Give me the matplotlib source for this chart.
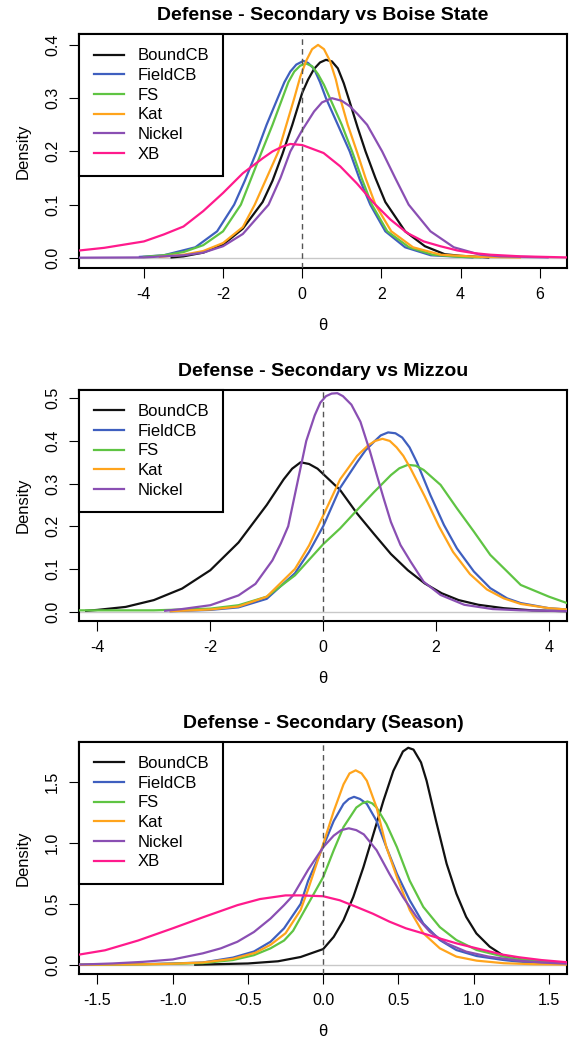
import matplotlib
matplotlib.use("Agg")
import matplotlib.pyplot as plt

plt.rcParams["font.family"] = ["Liberation Sans", "DejaVu Sans"]

# colours of the positions
pos_names = ["BoundCB", "FieldCB", "FS", "Kat", "Nickel", "XB"]
pos_colors = ["#111111", "#3f5fbf", "#5fc443", "#ffa41c", "#8a4fb3", "#ff1a8c"]

# ---- Boise State ----
boise_boundcb_x = [-3.3, -3, -2.5, -2, -1.5, -1, -0.75, -0.5, -0.25, 0, 0.15, 0.3, 0.45, 0.6, 0.75, 0.9, 1.05, 1.2, 1.4, 1.6, 1.85, 2.1, 2.6, 3.1, 3.6, 4.0, 4.7]
boise_boundcb_y = [0.001, 0.003, 0.01, 0.025, 0.055, 0.105, 0.145, 0.195, 0.25, 0.31, 0.335, 0.355, 0.367, 0.372, 0.369, 0.356, 0.328, 0.293, 0.245, 0.2, 0.15, 0.105, 0.05, 0.022, 0.007, 0.004, 0.001]
boise_fieldcb_x = [-4.1, -3.5, -2.7, -2.15, -1.72, -1.45, -1.15, -0.9, -0.62, -0.45, -0.3, -0.15, 0.03, 0.15, 0.3, 0.45, 0.6, 0.9, 1.2, 1.45, 1.72, 2.1, 2.6, 3.25, 4.3]
boise_fieldcb_y = [0.002, 0.005, 0.02, 0.05, 0.1, 0.145, 0.2, 0.25, 0.3, 0.33, 0.35, 0.363, 0.37, 0.366, 0.355, 0.33, 0.3, 0.25, 0.2, 0.148, 0.1, 0.05, 0.02, 0.005, 0.001]
boise_fs_x = [-4.0, -3.5, -3, -2.5, -2, -1.55, -1.02, -0.75, -0.5, -0.35, -0.2, -0.05, 0.1, 0.25, 0.4, 0.55, 0.7, 1.0, 1.26, 1.5, 1.76, 2.15, 2.7, 3.3, 4.0, 4.5]
boise_fs_y = [0.002, 0.005, 0.011, 0.024, 0.05, 0.1, 0.2, 0.25, 0.3, 0.33, 0.35, 0.361, 0.365, 0.36, 0.345, 0.325, 0.3, 0.25, 0.2, 0.15, 0.1, 0.05, 0.02, 0.006, 0.002, 0.001]
boise_kat_x = [-3.6, -3, -2.5, -2, -1.5, -1.2, -0.9, -0.6, -0.4, -0.2, -0.05, 0.1, 0.25, 0.4, 0.55, 0.7, 0.85, 0.96, 1.15, 1.38, 1.6, 1.85, 2.25, 2.8, 3.5, 4.5, 5.5]
boise_kat_y = [0.002, 0.006, 0.013, 0.028, 0.058, 0.1, 0.15, 0.2, 0.25, 0.3, 0.34, 0.37, 0.392, 0.4, 0.392, 0.37, 0.335, 0.3, 0.25, 0.2, 0.15, 0.1, 0.05, 0.02, 0.006, 0.002, 0.001]
boise_nickel_x = [-5.63, -4, -3, -2.5, -2, -1.5, -0.85, -0.55, -0.3, 0, 0.3, 0.5, 0.75, 1.0, 1.2, 1.4, 1.64, 2.02, 2.35, 2.69, 3.24, 3.83, 4.5, 5, 6.2]
boise_nickel_y = [0.0005, 0.001, 0.005, 0.01, 0.022, 0.045, 0.1, 0.15, 0.2, 0.24, 0.275, 0.292, 0.3, 0.295, 0.285, 0.27, 0.25, 0.2, 0.15, 0.1, 0.05, 0.02, 0.006, 0.003, 0.001]
boise_xb_x = [-5.63, -5, -4.5, -4, -3.5, -3, -2.5, -2, -1.5, -1, -0.75, -0.5, -0.3, 0, 0.54, 0.96, 1.38, 1.81, 2.23, 2.65, 3.07, 3.49, 3.92, 4.34, 4.76, 5.52, 6.69]
boise_xb_y = [0.014, 0.019, 0.025, 0.031, 0.044, 0.059, 0.088, 0.122, 0.159, 0.187, 0.2, 0.209, 0.214, 0.212, 0.197, 0.172, 0.14, 0.103, 0.072, 0.047, 0.031, 0.022, 0.014, 0.009, 0.006, 0.003, 0.001]

# ---- Mizzou ----
mizzou_boundcb_x = [-4.2, -4, -3.5, -3, -2.5, -2, -1.5, -1, -0.85, -0.7, -0.55, -0.4, -0.25, -0.1, 0.1, 0.3, 0.6, 0.9, 1.2, 1.5, 1.8, 2.1, 2.4, 2.75, 3.2, 3.7, 4.32]
mizzou_boundcb_y = [0.002, 0.004, 0.011, 0.027, 0.054, 0.097, 0.162, 0.25, 0.28, 0.31, 0.335, 0.35, 0.346, 0.335, 0.31, 0.285, 0.23, 0.182, 0.135, 0.097, 0.066, 0.043, 0.027, 0.016, 0.008, 0.003, 0.001]
mizzou_fieldcb_x = [-2.7, -2, -1.5, -1, -0.5, -0.25, 0, 0.3, 0.6, 0.75, 0.9, 1.02, 1.15, 1.28, 1.4, 1.53, 1.66, 1.9, 2.14, 2.37, 2.67, 2.96, 3.26, 3.5, 4, 4.32]
mizzou_fieldcb_y = [0.001, 0.004, 0.01, 0.03, 0.09, 0.14, 0.2, 0.29, 0.35, 0.378, 0.398, 0.413, 0.42, 0.418, 0.408, 0.385, 0.35, 0.273, 0.203, 0.148, 0.094, 0.055, 0.031, 0.02, 0.008, 0.005]
mizzou_fs_x = [-4.32, -3, -2, -1.5, -1, -0.5, 0, 0.3, 0.6, 0.9, 1.2, 1.35, 1.5, 1.64, 1.78, 2.08, 2.37, 2.67, 2.96, 3.26, 3.5, 4, 4.32]
mizzou_fs_y = [0.003, 0.003, 0.007, 0.015, 0.035, 0.085, 0.158, 0.195, 0.238, 0.28, 0.32, 0.336, 0.344, 0.342, 0.332, 0.297, 0.242, 0.1875, 0.133, 0.094, 0.0625, 0.035, 0.02]
mizzou_kat_x = [-2.7, -2, -1.5, -1, -0.5, -0.25, 0, 0.3, 0.6, 0.8, 0.92, 1.05, 1.18, 1.3, 1.42, 1.55, 1.8, 2.05, 2.3, 2.6, 2.9, 3.2, 3.5, 4, 4.32]
mizzou_kat_y = [0.001, 0.005, 0.012, 0.035, 0.1, 0.155, 0.225, 0.31, 0.365, 0.39, 0.4, 0.405, 0.4, 0.385, 0.365, 0.335, 0.27, 0.2, 0.14, 0.088, 0.052, 0.031, 0.018, 0.008, 0.005]
mizzou_nickel_x = [-2.8, -2.5, -2, -1.5, -1.2, -0.9, -0.75, -0.62, -0.46, -0.3, -0.15, -0.05, 0.05, 0.15, 0.25, 0.35, 0.5, 0.66, 0.83, 0.95, 1.07, 1.2, 1.37, 1.55, 1.78, 2.08, 2.5, 3, 3.5, 4.32]
mizzou_nickel_y = [0.002, 0.006, 0.015, 0.038, 0.065, 0.12, 0.16, 0.2, 0.3, 0.4, 0.46, 0.49, 0.505, 0.511, 0.512, 0.505, 0.485, 0.445, 0.375, 0.32, 0.266, 0.21, 0.156, 0.117, 0.07, 0.039, 0.016, 0.006, 0.003, 0.001]

# ---- Season ----
season_boundcb_x = [-0.85, -0.5, -0.3, -0.15, 0, 0.07, 0.135, 0.2, 0.267, 0.333, 0.4, 0.466, 0.53, 0.565, 0.6, 0.65, 0.687, 0.75, 0.82, 0.885, 0.95, 1.018, 1.106, 1.19, 1.3, 1.45, 1.62]
season_boundcb_y = [0.002, 0.012, 0.03, 0.065, 0.13, 0.23, 0.367, 0.557, 0.8, 1.07, 1.345, 1.59, 1.75, 1.78, 1.765, 1.66, 1.51, 1.18, 0.83, 0.584, 0.394, 0.258, 0.15, 0.082, 0.046, 0.02, 0.01]
season_fieldcb_x = [-1.62, -1.2, -1, -0.8, -0.6, -0.46, -0.35, -0.26, -0.15, -0.1, 0, 0.07, 0.135, 0.17, 0.205, 0.245, 0.29, 0.355, 0.42, 0.49, 0.575, 0.665, 0.775, 0.885, 1.02, 1.2, 1.3, 1.45, 1.62]
season_fieldcb_y = [0.002, 0.007, 0.012, 0.02, 0.06, 0.11, 0.19, 0.3, 0.5, 0.69, 0.97, 1.18, 1.32, 1.36, 1.378, 1.36, 1.32, 1.18, 0.965, 0.747, 0.53, 0.34, 0.204, 0.122, 0.073, 0.04, 0.027, 0.015, 0.008]
season_fs_x = [-1.62, -1.2, -1, -0.8, -0.6, -0.46, -0.35, -0.26, -0.2, -0.1, 0, 0.07, 0.135, 0.22, 0.26, 0.294, 0.325, 0.355, 0.42, 0.49, 0.575, 0.665, 0.775, 0.885, 1.02, 1.2, 1.3, 1.45, 1.62]
season_fs_y = [0.002, 0.005, 0.009, 0.015, 0.04, 0.08, 0.136, 0.2, 0.28, 0.5, 0.72, 0.94, 1.13, 1.29, 1.325, 1.34, 1.325, 1.29, 1.155, 0.965, 0.69, 0.476, 0.31, 0.204, 0.122, 0.068, 0.046, 0.03, 0.018]
season_kat_x = [-1.62, -1.2, -1, -0.8, -0.6, -0.45, -0.35, -0.25, -0.15, -0.1, 0, 0.07, 0.135, 0.175, 0.216, 0.255, 0.29, 0.355, 0.42, 0.49, 0.575, 0.665, 0.775, 0.885, 1.02, 1.2, 1.4, 1.62]
season_kat_y = [0.001, 0.005, 0.01, 0.02, 0.05, 0.1, 0.165, 0.26, 0.45, 0.62, 0.99, 1.26, 1.48, 1.57, 1.595, 1.57, 1.51, 1.29, 0.965, 0.72, 0.45, 0.26, 0.136, 0.068, 0.035, 0.014, 0.006, 0.003]
season_nickel_x = [-1.62, -1.4, -1.2, -1, -0.8, -0.68, -0.57, -0.46, -0.35, -0.26, -0.2, -0.1, 0, 0.07, 0.12, 0.17, 0.22, 0.27, 0.355, 0.44, 0.53, 0.62, 0.71, 0.82, 0.95, 1.1, 1.3, 1.45, 1.62]
season_nickel_y = [0.003, 0.012, 0.025, 0.045, 0.095, 0.136, 0.19, 0.27, 0.38, 0.49, 0.57, 0.78, 0.965, 1.06, 1.105, 1.12, 1.105, 1.07, 0.94, 0.747, 0.557, 0.394, 0.27, 0.177, 0.109, 0.068, 0.035, 0.02, 0.01]
season_xb_x = [-1.62, -1.45, -1.23, -1.0, -0.8, -0.57, -0.42, -0.25, -0.15, 0, 0.11, 0.22, 0.33, 0.44, 0.55, 0.665, 0.775, 0.885, 1.02, 1.19, 1.3, 1.45, 1.62]
season_xb_y = [0.085, 0.12, 0.2, 0.3, 0.39, 0.49, 0.54, 0.57, 0.57, 0.563, 0.53, 0.476, 0.42, 0.355, 0.3, 0.258, 0.217, 0.177, 0.136, 0.085, 0.063, 0.04, 0.022]

boise_xticks = [-4, -2, 0, 2, 4, 6]
boise_yticks = [0.0, 0.1, 0.2, 0.3, 0.4]
mizzou_xticks = [-4, -2, 0, 2, 4]
mizzou_yticks = [0.0, 0.1, 0.2, 0.3, 0.4, 0.5]
season_xticks = [-1.5, -1.0, -0.5, 0.0, 0.5, 1.0, 1.5]
season_yticks = [0.0, 0.5, 1.0, 1.5]

fig = plt.figure(figsize=(5.71, 10.41), dpi=100)


def panel(rect, title, curves, xlim, ylim, xticks, yticks, xfmt, yfmt):
    ax = fig.add_axes(rect)
    ax.axhline(0, color="#c8c8c8", lw=1, zorder=1)
    for (xs, ys), name, col in zip(curves, pos_names, pos_colors):
        ax.plot(xs, ys, color=col, lw=1.6, label=name, zorder=3)
    ax.axvline(0, color="#555555", lw=1, ls=(0, (4, 3)), zorder=4)
    ax.set_xlim(*xlim)
    ax.set_ylim(*ylim)
    ax.set_xticks(xticks)
    ax.set_xticklabels([xfmt.format(v) for v in xticks])
    ax.set_yticks(yticks)
    ax.set_yticklabels([yfmt.format(v) for v in yticks], rotation=90, va="center")
    ax.tick_params(direction="out", length=7, width=0.8, labelsize=11.5, pad=7)
    for s in ax.spines.values():
        s.set_linewidth(1.5)
    ax.set_title(title, fontsize=14, fontweight="bold", pad=10)
    ax.set_xlabel("θ", fontsize=12, labelpad=11)
    ax.set_ylabel("Density", fontsize=12, labelpad=10)
    leg = ax.legend(loc="upper left", borderaxespad=0, fancybox=False, fontsize=12,
                    handlelength=1.8, handletextpad=0.85, labelspacing=0.28,
                    borderpad=0.85, framealpha=1)
    leg.get_frame().set_edgecolor("black")
    leg.get_frame().set_linewidth(1.5)
    return ax


panel([0.139, 0.7426, 0.854, 0.2245], "Defense - Secondary vs Boise State",
      [(boise_boundcb_x, boise_boundcb_y), (boise_fieldcb_x, boise_fieldcb_y),
       (boise_fs_x, boise_fs_y), (boise_kat_x, boise_kat_y),
       (boise_nickel_x, boise_nickel_y), (boise_xb_x, boise_xb_y)],
      (-5.63, 6.69), (-0.0188, 0.42), boise_xticks, boise_yticks, "{:g}", "{:.1f}")

panel([0.139, 0.4035, 0.854, 0.2219], "Defense - Secondary vs Mizzou",
      [(mizzou_boundcb_x, mizzou_boundcb_y), (mizzou_fieldcb_x, mizzou_fieldcb_y),
       (mizzou_fs_x, mizzou_fs_y), (mizzou_kat_x, mizzou_kat_y),
       (mizzou_nickel_x, mizzou_nickel_y)],
      (-4.32, 4.32), (-0.0219, 0.5195), mizzou_xticks, mizzou_yticks, "{:g}", "{:.1f}")

panel([0.139, 0.0644, 0.854, 0.2229], "Defense - Secondary (Season)",
      [(season_boundcb_x, season_boundcb_y), (season_fieldcb_x, season_fieldcb_y),
       (season_fs_x, season_fs_y), (season_kat_x, season_kat_y),
       (season_nickel_x, season_nickel_y), (season_xb_x, season_xb_y)],
      (-1.62, 1.62), (-0.074, 1.828), season_xticks, season_yticks, "{:.1f}", "{:.1f}")

fig.savefig("out.png", dpi=100)
